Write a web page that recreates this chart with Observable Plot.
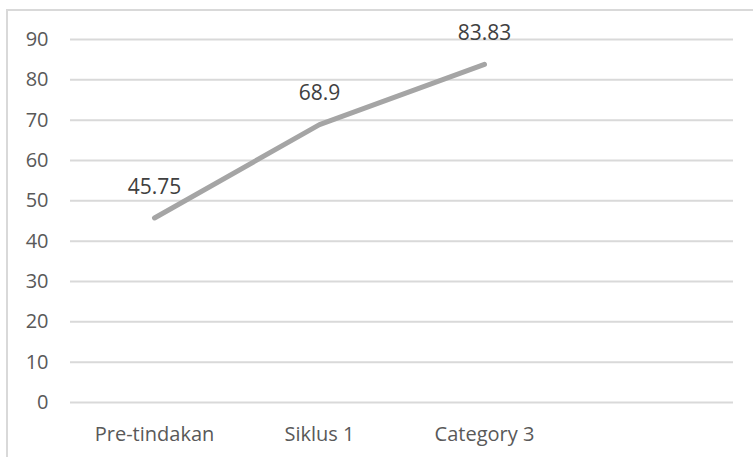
<!DOCTYPE html>
<html>
<head>
<meta charset="utf-8">
<script src="https://cdn.jsdelivr.net/npm/d3@7"></script>
<script src="https://cdn.jsdelivr.net/npm/@observablehq/plot@0.6"></script>
<style>
  html, body { margin: 0; padding: 0; background: #fff; }
  #chart { position: relative; width: 753px; height: 457px; overflow: hidden; }
  #frame { position: absolute; left: 6px; top: 9px; width: 760px; height: 460px; border: 2px solid #d9d9d9; box-sizing: border-box; pointer-events: none; }
</style>
</head>
<body>
<div id="chart"><div id="frame"></div></div>
<script>
const categories = ["Pre-tindakan", "Siklus 1", "Category 3", ""];
const seriesCategories = ["Pre-tindakan", "Siklus 1", "Category 3"];
const values = [45.75, 68.9, 83.83];
const labels = ["45.75", "68.9", "83.83"];
const yTicks = [0, 10, 20, 30, 40, 50, 60, 70, 80, 90];

const data = seriesCategories.map((c, i) => ({cat: c, value: values[i], label: labels[i]}));

const font = "'Open Sans', 'Noto Sans', sans-serif";

const chart = Plot.plot({
  width: 753,
  height: 457,
  marginLeft: 70,
  marginRight: 20,
  marginTop: 39,
  marginBottom: 55,
  style: { fontFamily: font, fontSize: "20px", color: "#595959", background: "transparent" },
  x: { type: "point", domain: categories, padding: 0.5, label: null },
  y: { domain: [0, 90], ticks: yTicks, label: null },
  marks: [
    Plot.ruleY(yTicks, { stroke: "#d9d9d9", strokeWidth: 2 }),
    Plot.axisY({ ticks: yTicks, tickSize: 0, tickPadding: 22, fontSize: 20, fill: "#595959", label: null }),
    Plot.axisX({ tickSize: 0, tickPadding: 24, fontSize: 20, fill: "#595959", label: null }),
    Plot.line(data, { x: "cat", y: "value", stroke: "#a5a5a5", strokeWidth: 5, strokeLinecap: "round", strokeLinejoin: "round" }),
    Plot.text(data, { x: "cat", y: "value", text: "label", dy: -31, fontSize: 21, fill: "#404040" })
  ]
});
document.getElementById("chart").prepend(chart);
</script>
</body>
</html>
